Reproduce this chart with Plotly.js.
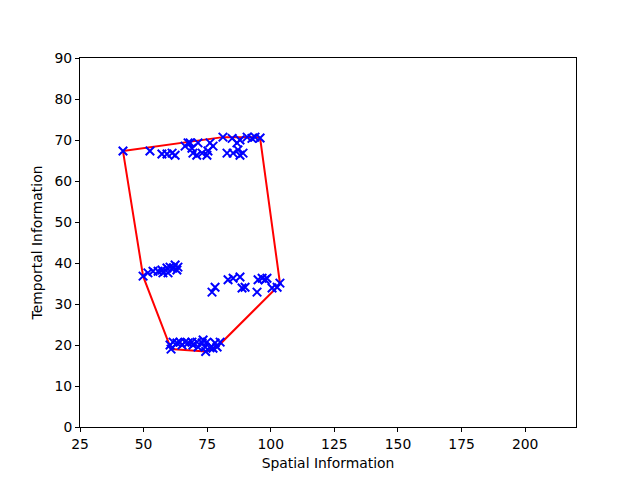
<!DOCTYPE html>
<html>
<head>
<meta charset="utf-8">
<script src="https://cdn.plot.ly/plotly-3.0.1.min.js"></script>
<style>
  html, body { margin: 0; padding: 0; background: #fff; }
  #plot { width: 640px; height: 480px; }
</style>
</head>
<body>
<div id="plot"></div>
<script>
// spatial / temporal information per clip
var siTop = [41.9, 52.5, 57.2, 59.2, 61.2, 62.4, 66.3, 67.5, 69.0, 68.3, 71.4, 76.1, 77.3, 81.2, 84.8, 86.7, 87.9, 90.7, 92.6, 93.8, 95.8,
             69.4, 70.9, 73.0, 74.9, 75.3, 82.8, 85.2, 87.1, 87.9, 89.1];
var tiTop = [67.3, 67.3, 66.6, 66.6, 66.8, 66.3, 68.5, 69.3, 68.0, 69.3, 69.3, 69.3, 68.5, 70.7, 70.4, 69.3, 70.0, 70.7, 70.4, 70.7, 70.5,
             66.8, 66.3, 66.8, 66.3, 67.3, 66.8, 66.8, 67.6, 66.3, 66.8];

var siMidLeft = [49.8, 51.7, 53.7, 55.7, 57.2, 57.6, 59.2, 59.6, 60.4, 61.6, 62.4, 63.1, 63.5];
var tiMidLeft = [36.8, 37.6, 38.0, 38.0, 38.3, 37.6, 38.8, 37.6, 39.0, 38.8, 39.5, 38.3, 39.0];

var siMidRight = [76.9, 78.1, 83.2, 85.2, 87.9, 88.7, 89.9, 94.6, 95.0, 96.6, 97.8, 98.5, 100.5, 102.5, 103.6];
var tiMidRight = [32.9, 34.1, 35.9, 36.3, 36.6, 33.9, 34.1, 32.9, 35.9, 36.3, 35.9, 36.3, 33.9, 34.1, 35.1];

var siBottom = [60.4, 61.6, 63.1, 64.3, 65.1, 66.3, 67.5, 69.0, 69.4, 71.0, 71.4, 73.0, 73.4, 74.2, 74.9, 76.1, 78.1, 78.9, 80.1, 60.8, 74.4, 77.3];
var tiBottom = [20.0, 20.7, 20.5, 20.7, 20.0, 20.7, 20.5, 20.7, 20.0, 20.7, 19.5, 20.5, 21.2, 19.5, 20.7, 19.3, 20.5, 19.5, 20.7, 19.0, 18.4, 19.2];

var si = siTop.concat(siMidLeft, siMidRight, siBottom);
var ti = tiTop.concat(tiMidLeft, tiMidRight, tiBottom);

// convex hull (monotone chain)
function hull(xs, ys) {
  var pts = xs.map(function (x, i) { return [x, ys[i]]; });
  pts.sort(function (a, b) { return a[0] - b[0] || a[1] - b[1]; });
  function cross(o, a, b) { return (a[0] - o[0]) * (b[1] - o[1]) - (a[1] - o[1]) * (b[0] - o[0]); }
  var lower = [], upper = [];
  pts.forEach(function (p) {
    while (lower.length >= 2 && cross(lower[lower.length - 2], lower[lower.length - 1], p) <= 0) lower.pop();
    lower.push(p);
  });
  for (var i = pts.length - 1; i >= 0; i--) {
    var p = pts[i];
    while (upper.length >= 2 && cross(upper[upper.length - 2], upper[upper.length - 1], p) <= 0) upper.pop();
    upper.push(p);
  }
  lower.pop();
  return lower.concat(upper);
}
var hp = hull(si, ti);

var points = {
  x: si,
  y: ti,
  mode: 'markers',
  type: 'scatter',
  marker: {symbol: 'x-thin', size: 8.5, color: 'blue', line: {color: 'blue', width: 2}},
  hoverinfo: 'x+y'
};

var hullLine = {
  x: hp.map(function (p) { return p[0]; }),
  y: hp.map(function (p) { return p[1]; }),
  mode: 'lines',
  type: 'scatter',
  line: {color: 'red', width: 2}
};

var axisFont = {family: 'DejaVu Sans', size: 13.9, color: 'black'};

var layout = {
  width: 640,
  height: 480,
  showlegend: false,
  paper_bgcolor: 'white',
  plot_bgcolor: 'white',
  margin: {l: 80, r: 64, t: 58, b: 53},
  font: {family: 'DejaVu Sans', color: 'black'},
  xaxis: {
    range: [25, 220],
    tickvals: [25, 50, 75, 100, 125, 150, 175, 200],
    ticks: 'outside', ticklen: 4, tickwidth: 1, tickcolor: 'black',
    showline: true, mirror: true, linecolor: 'black', linewidth: 1,
    showgrid: false, zeroline: false,
    tickfont: axisFont,
    title: {text: 'Spatial Information', font: axisFont, standoff: 7}
  },
  yaxis: {
    range: [0, 90],
    tickvals: [0, 10, 20, 30, 40, 50, 60, 70, 80, 90],
    ticks: 'outside', ticklen: 4, tickwidth: 1, tickcolor: 'black',
    showline: true, mirror: true, linecolor: 'black', linewidth: 1,
    showgrid: false, zeroline: false,
    tickfont: axisFont,
    title: {text: 'Temportal Information', font: axisFont, standoff: 8}
  }
};

Plotly.newPlot('plot', [hullLine, points], layout, {displayModeBar: false});
</script>
</body>
</html>
